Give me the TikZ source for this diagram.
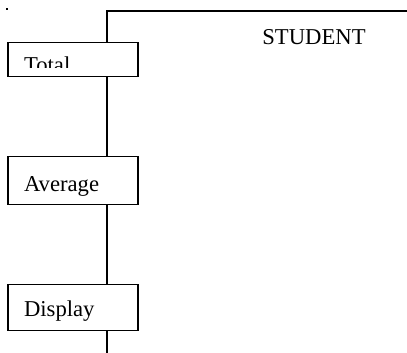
\documentclass[tikz,border=0pt]{standalone}
\usepackage{fontspec}
\setmainfont{Liberation Serif}
\usetikzlibrary{positioning}

\tikzset{
    func/.style={draw, line width=1.1pt, anchor=north west, minimum width=97.5pt,
        text width=73.5pt, align=left, inner xsep=12pt, inner ysep=0pt,
        text depth=1pt, font=\fontsize{17}{20}\selectfont},
}

\begin{document}
\begin{tikzpicture}[x=0.75pt,y=-0.75pt]
        \useasboundingbox (0,0) rectangle (407,353);
        \fill (5.5,8.5) rectangle (7.5,10.5);

        \coordinate (top) at (107,10.8);
        \coordinate (right) at (407,10.8);
        \coordinate (bottom) at (107,353);

        \node[func, minimum height=25.5pt, text height=20.5pt] (total) at (7.3,41.8) {Total};
        \fill[white] (8.5,68) rectangle (135.8,75);
        \node[func, minimum height=36pt, text height=17.5pt] (average) at (7.3,156) {Average};
        \node[func, minimum height=34.5pt, text height=14pt] (display) at (7.3,284) {Display};
        \node[font=\fontsize{17}{20}\selectfont] (student) at (314,37) {STUDENT};

        \draw[line width=1.1pt] (right) -- (top) -- (top |- total.north);
        \draw[line width=1.1pt] (top |- total.south) -- (top |- average.north);
        \draw[line width=1.1pt] (top |- average.south) -- (top |- display.north);
        \draw[line width=1.1pt] (top |- display.south) -- (bottom);
    \end{tikzpicture}
\end{document}
